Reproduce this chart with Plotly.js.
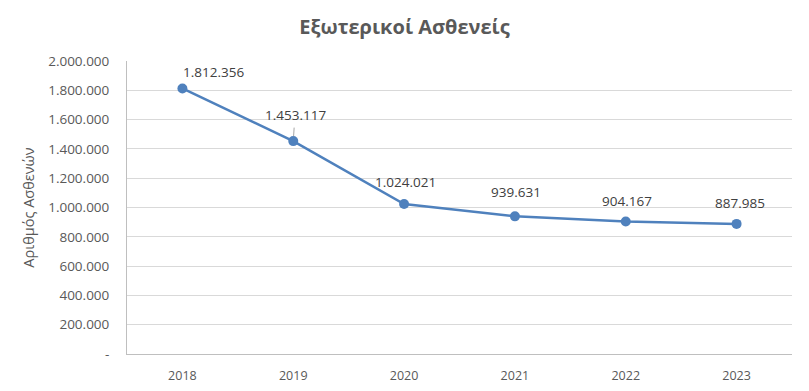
<!DOCTYPE html>
<html>
<head>
<meta charset="utf-8">
<script src="https://cdn.plot.ly/plotly-3.0.1.min.js"></script>
<style>html,body{margin:0;padding:0;background:#fff;}#chart{width:809px;height:391px;}</style>
</head>
<body>
<div id="chart"></div>
<script>
const years = [2018, 2019, 2020, 2021, 2022, 2023];
const patients = [1812356, 1453117, 1024021, 939631, 904167, 887985];
const labels = ['1.812.356', '1.453.117', '1.024.021', '939.631', '904.167', '887.985'];
const yTickVals = [0, 200000, 400000, 600000, 800000, 1000000, 1200000, 1400000, 1600000, 1800000, 2000000];
const yTickText = ['-', '200.000', '400.000', '600.000', '800.000', '1.000.000', '1.200.000', '1.400.000', '1.600.000', '1.800.000', '2.000.000'];
const labelXShift = [31, 2, 1, 1, 1, 3];
const labelYShift = [16, 26, 22, 24, 21, 21];

const blue = '#4f81bd';
const grey = '#595959';

const annotations = years.map((y, i) => ({
  x: y, y: patients[i], xref: 'x', yref: 'y',
  text: labels[i], showarrow: false,
  xshift: labelXShift[i], yshift: labelYShift[i],
  font: {family: 'Open Sans, Liberation Sans, sans-serif', size: 13.5, color: '#404040'}
}));

// short leader line for the 2019 label
annotations.push({
  x: years[1], y: patients[1], xref: 'x', yref: 'y',
  ax: 1, ay: -15, showarrow: true, arrowhead: 0, arrowwidth: 1,
  arrowcolor: '#a6a6a6', text: '', standoff: 5
});

Plotly.newPlot('chart', [{
  type: 'scatter', mode: 'lines+markers',
  x: years, y: patients,
  line: {color: blue, width: 2.5},
  marker: {color: blue, size: 10},
  hoverinfo: 'skip'
}], {
  width: 809, height: 391,
  margin: {l: 127, r: 17, t: 61, b: 37},
  paper_bgcolor: '#fff', plot_bgcolor: '#fff',
  showlegend: false,
  title: {text: '<b>Εξωτερικοί Ασθενείς</b>', x: 0.5, xanchor: 'center', y: 0.93, yanchor: 'middle',
          font: {family: 'Open Sans, sans-serif', size: 20, color: grey}},
  xaxis: {type: 'linear', range: [2017.5, 2023.5], tickvals: years, ticktext: years.map(String),
          showgrid: false, zeroline: false, showline: true, linecolor: '#bfbfbf', linewidth: 1,
          ticks: '', tickfont: {family: 'Open Sans, sans-serif', size: 12.5, color: grey},
          ticklabelstandoff: 10, fixedrange: true},
  yaxis: {range: [0, 2000000], tickvals: yTickVals, ticktext: yTickText,
          showgrid: true, gridcolor: '#d9d9d9', gridwidth: 1, zeroline: false,
          showline: true, linecolor: '#bfbfbf', linewidth: 1, ticks: '',
          tickfont: {family: 'Open Sans, sans-serif', size: 13.5, color: grey},
          ticklabelstandoff: 14,
          title: {text: 'Αριθμός Ασθενών', standoff: 10,
                  font: {family: 'Open Sans, sans-serif', size: 14.5, color: grey}},
          fixedrange: true},
  annotations: annotations
}, {staticPlot: true, displayModeBar: false});
</script>
</body>
</html>
